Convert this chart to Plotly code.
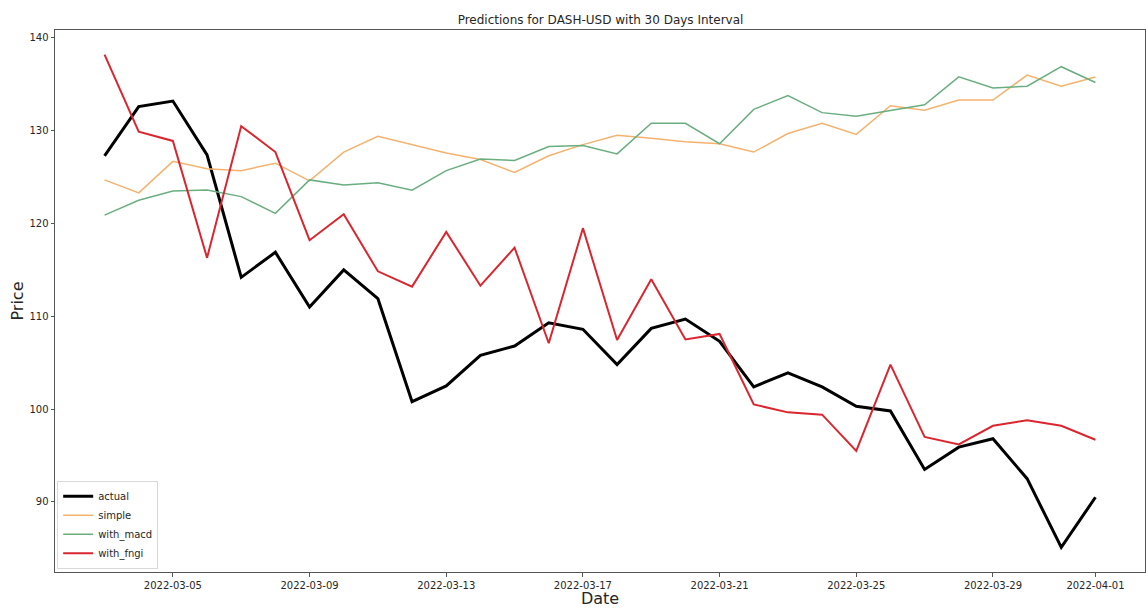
import pandas as pd
import plotly.graph_objects as go

dates = pd.date_range("2022-03-03", "2022-04-01", freq="D")

actual = [127.3, 132.6, 133.2, 127.4, 114.2, 116.9, 111.0, 115.0, 111.9, 100.8,
          102.5, 105.8, 106.8, 109.3, 108.6, 104.8, 108.7, 109.7, 107.3, 102.4,
          103.9, 102.4, 100.3, 99.8, 93.5, 95.9, 96.8, 92.5, 85.1, 90.5]
simple = [124.7, 123.3, 126.7, 125.9, 125.7, 126.5, 124.6, 127.7, 129.4, 128.5,
          127.6, 126.9, 125.5, 127.3, 128.5, 129.5, 129.2, 128.8, 128.6, 127.7,
          129.7, 130.8, 129.6, 132.7, 132.2, 133.3, 133.3, 136.0, 134.8, 135.8]
with_macd = [120.9, 122.5, 123.5, 123.6, 122.9, 121.1, 124.7, 124.15, 124.4, 123.6,
             125.7, 126.95, 126.8, 128.3, 128.4, 127.5, 130.8, 130.8, 128.6, 132.3,
             133.8, 131.95, 131.55, 132.2, 132.8, 135.8, 134.6, 134.8, 136.9, 135.2]
with_fngi = [138.2, 129.9, 128.9, 116.3, 130.5, 127.7, 118.2, 121.0, 114.85, 113.2,
             119.1, 113.3, 117.4, 107.1, 119.5, 107.45, 114.0, 107.5, 108.1, 100.5,
             99.65, 99.4, 95.5, 104.8, 97.0, 96.2, 98.2, 98.8, 98.2, 96.7]

tick_dates = ["2022-03-05", "2022-03-09", "2022-03-13", "2022-03-17",
              "2022-03-21", "2022-03-25", "2022-03-29", "2022-04-01"]
y_ticks = [90, 100, 110, 120, 130, 140]

series = [
    ("actual", actual, "#000000", 3.0),
    ("simple", simple, "#f4b26e", 1.5),
    ("with_macd", with_macd, "#6aae80", 1.5),
    ("with_fngi", with_fngi, "#d9262f", 2.0),
]

fig = go.Figure()
for name, vals, color, width in series:
    fig.add_trace(go.Scatter(x=dates, y=vals, mode="lines", name=name,
                             line=dict(color=color, width=width)))

# 5% padding around the data, as in a default matplotlib axes
all_vals = actual + simple + with_macd + with_fngi
lo, hi = min(all_vals), max(all_vals)
pad_y = (hi - lo) * 0.05
span_days = (dates[-1] - dates[0]).days
pad_x = pd.Timedelta(days=span_days * 0.05)

fig.update_layout(
    width=1146, height=608,
    margin=dict(l=55, r=1, t=30, b=36),
    paper_bgcolor="white", plot_bgcolor="white",
    font=dict(family="DejaVu Sans", color="#262626", size=10),
    title=dict(text="Predictions for DASH-USD with 30 Days Interval",
               x=0.524, xanchor="center", y=0.968, yanchor="middle",
               font=dict(size=12, color="#262626")),
    showlegend=True,
    legend=dict(x=0.002, y=0.006, xanchor="left", yanchor="bottom",
                bgcolor="rgba(255,255,255,0.8)", bordercolor="#d9d9d9",
                borderwidth=1, font=dict(size=10), tracegroupgap=0,
                itemwidth=30),
    xaxis=dict(
        range=[dates[0] - pad_x, dates[-1] + pad_x],
        tickvals=pd.to_datetime(tick_dates), ticktext=tick_dates,
        showgrid=False, zeroline=False,
        showline=True, linecolor="#555555", linewidth=1, mirror=True,
        ticks="outside", ticklen=3.5, tickcolor="#555555",
        title=dict(text="Date", font=dict(size=16), standoff=4),
    ),
    yaxis=dict(
        range=[lo - pad_y, hi + pad_y],
        tickvals=y_ticks, showgrid=False, zeroline=False,
        showline=True, linecolor="#555555", linewidth=1, mirror=True,
        ticks="outside", ticklen=3.5, tickcolor="#555555",
        title=dict(text="Price", font=dict(size=16), standoff=1),
    ),
)

fig.write_html("out.html")
